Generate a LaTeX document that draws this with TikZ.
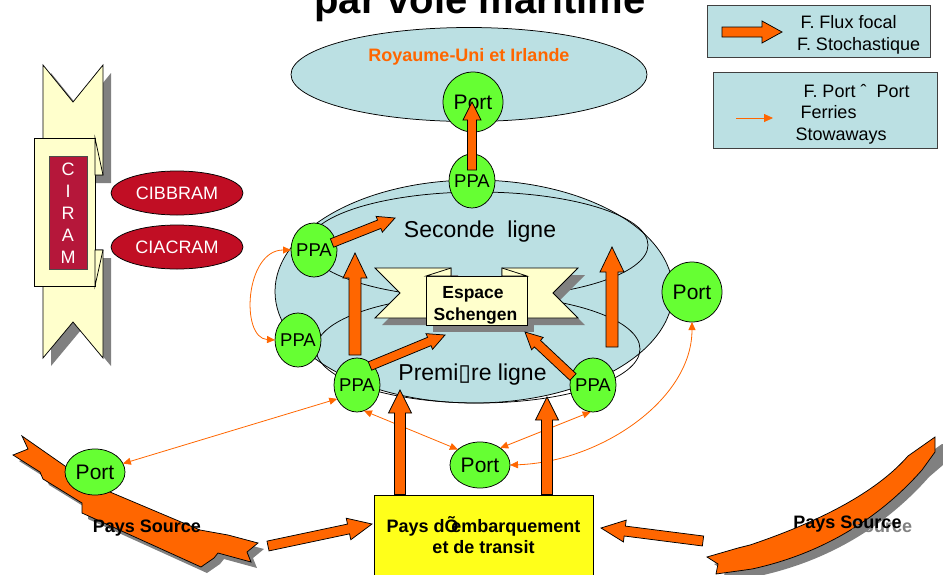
\documentclass[tikz,border=0pt]{standalone}
\usepackage{fontspec}
\setmainfont{Liberation Sans}
\newfontfamily\dvfont{DejaVu Sans}
\usetikzlibrary{shapes.geometric,arrows.meta,calc}
\definecolor{lblue}{HTML}{BBE0E3}
\definecolor{pgreen}{HTML}{66FF33}
\definecolor{porange}{HTML}{FF6600}
\definecolor{pyellow}{HTML}{FFFF1A}
\definecolor{ivory}{HTML}{FFFFCC}
\definecolor{pred}{HTML}{C10E24}
\definecolor{pcrimson}{HTML}{B5173A}
\definecolor{sgray}{HTML}{808080}
\definecolor{lgborder}{HTML}{404040}
\newcommand\fs[1]{\fontsize{#1}{#1}\selectfont}
\newcommand\blockarrow[5]{%
  \coordinate (bah) at ($(#2)!#5!(#1)$);
  \filldraw[blockstyle] ($(#1)!#3!90:(#2)$) -- ($(bah)!#3!90:(#2)$) -- ($(bah)!#4!90:(#2)$) -- (#2) -- ($(bah)!#4!-90:(#2)$) -- ($(bah)!#3!-90:(#2)$) -- ($(#1)!#3!-90:(#2)$) -- cycle;
}
\begin{document}
\begin{tikzpicture}[x=1pt,y=-1pt,
  every node/.style={inner sep=0pt, outer sep=0pt},
  ppa/.style={ellipse, draw=black, line width=.75pt, fill=pgreen, minimum width=46pt, minimum height=54pt, font=\fs{18.5}},
  portc/.style={circle, draw=black, line width=.75pt, fill=pgreen, minimum size=60pt, font=\fs{21}},
  porte/.style={ellipse, draw=black, line width=.75pt, fill=pgreen, minimum width=60pt, minimum height=46pt, font=\fs{21}},
  redell/.style={ellipse, draw=black, line width=.75pt, fill=pred, minimum width=132pt, minimum height=44pt, text=white, font=\fs{18}},
  thinarrow/.style={draw=porange, line width=.8pt, arrows={Triangle[length=8pt,width=7pt]-Triangle[length=8pt,width=7pt]}},
  blockstyle/.style={draw=black, line width=.75pt, fill=porange, line join=miter},
  ribbon/.style={draw=black, line width=.75pt, fill=ivory},
  shadowfill/.style={fill=sgray},
  lbox/.style={draw=lgborder, line width=1pt, fill=lblue},
  lgtext/.style={font=\fs{18}, anchor=base west},
  btext/.style={font=\bfseries\fs{18}, anchor=base},
]
\useasboundingbox (0,0) rectangle (943,574);
\clip (0,0) rectangle (943,574);

% title
\node[font=\bfseries\fs{40}, anchor=base] (title) at (480,13) {par voie maritime};

% UK ellipse
\draw[fill=lblue, line width=.75pt] (469,74.5) ellipse [x radius=178, y radius=47];
\node[font=\bfseries\fs{18}, text=porange, anchor=base] (uk) at (469,61.5) {Royaume-Uni et Irlande};

% main ellipse and lines
\draw[fill=lblue, line width=.75pt] (474,291.5) ellipse [x radius=199, y radius=111.5];
\draw[line width=.75pt] (478,245) ellipse [x radius=170, y radius=53];
\draw[line width=.75pt] (478,349) ellipse [x radius=162, y radius=54];
\node[font=\fs{23}, anchor=base] (seconde) at (480,237) {Seconde\ \ ligne};
\node[font=\fs{23}, anchor=base] (premiere) at (472.5,380) {Premi{\dvfont ▯}re ligne};

% Schengen banner
\fill[shadowfill] (382,275) -- (458,275) -- (458,325) -- (382,325) -- (407,300) -- cycle;
\fill[shadowfill] (585,275) -- (509,275) -- (509,325) -- (585,325) -- (560,300) -- cycle;
\fill[shadowfill] (433,283) rectangle (534,332);
\filldraw[ribbon] (375,268) -- (451,268) -- (451,318) -- (375,318) -- (400,293) -- cycle;
\filldraw[ribbon] (578,268) -- (502,268) -- (502,318) -- (578,318) -- (553,293) -- cycle;
\node[ribbon, minimum width=101pt, minimum height=49pt] (schbox) at (476.5,300.5) {};
\filldraw[ribbon] (426,276) -- (451,268) -- (451,276) -- cycle;
\filldraw[ribbon] (527,276) -- (502,268) -- (502,276) -- cycle;
\node[btext, font=\bfseries\fs{17.5}] (esp1) at (473,298.5) {Espace};
\node[btext, font=\bfseries\fs{17.5}] (esp2) at (475.5,320) {Schengen};

% CIRAM scroll
\fill[shadowfill] (51,73) -- (81,110) -- (111,73) -- (111,183) -- (51,183) -- cycle;
\fill[shadowfill] (51,258) -- (111,258) -- (111,366) -- (81,330) -- (51,366) -- cycle;
\filldraw[ribbon] (43,65) -- (73,102) -- (103,65) -- (103,175) -- (43,175) -- cycle;
\filldraw[ribbon] (43,250) -- (103,250) -- (103,358) -- (73,322) -- (43,358) -- cycle;
\filldraw[ribbon] (34,138) rectangle (95,286);
\filldraw[ribbon] (95,138) -- (103,175) -- (95,175) -- cycle;
\filldraw[ribbon] (95,250) -- (103,250) -- (95,286) -- cycle;
\node[draw=black!70, line width=.75pt, fill=pcrimson, minimum width=38pt, minimum height=113pt] (ciramrect) at (68,212.5) {};
\foreach \l/\yy [count=\i] in {C/175,I/197,R/219,A/241,M/263}
  \node[font=\fs{18}, text=white, anchor=base] (ciram\i) at (68,\yy) {\l};
\node[redell] (cibbram) at (177,193) {CIBBRAM};
\node[redell] (ciacram) at (177,247) {CIACRAM};

% Pays Source left ribbon
\fill[shadowfill, shift={(6,6)}] (22,436) -- (65,466) -- (110,492) -- (200,530) -- (228,535) -- (258,543) -- (247,552) -- (251,562) -- (218,553) -- (214,558) -- (201,567) -- (82,513) -- (82,503) -- (43,479) -- (40,472) -- (13,455) -- (28,449) -- cycle;
\filldraw[fill=porange, draw=black, line width=.75pt] (22,436) -- (65,466) -- (110,492) -- (200,530) -- (228,535) -- (258,543) -- (247,552) -- (251,562) -- (218,553) -- (214,558) -- (201,567) -- (82,513) -- (82,503) -- (43,479) -- (40,472) -- (13,455) -- (28,449) -- cycle;
\node[btext] (srcL) at (147,532) {Pays Source};

% Pays Source right ribbon
\fill[shadowfill, shift={(7,7)}] (707,557) -- (738,548) -- (750,545) .. controls (830,518) and (880,488) .. (908,456) -- (935,437) -- (943,437) -- (943,452) -- (922,470) .. controls (885,512) and (830,552) .. (752,569) -- (745,570) -- (716,574) -- (718,564) -- cycle;
\filldraw[fill=porange, draw=black, line width=.75pt] (707,557) -- (738,548) -- (750,545) .. controls (830,518) and (880,488) .. (908,456) -- (935,437) -- (935,452) -- (922,470) .. controls (885,512) and (830,552) .. (752,569) -- (745,570) -- (716,574) -- (718,564) -- cycle;
\node[btext, text=sgray, anchor=base west] (srcRsh) at (851,532) {Source};
\node[btext] (srcR) at (847.5,528) {Pays Source};

% yellow box
\node[draw=black, line width=.75pt, fill=pyellow, minimum width=219pt, minimum height=90pt] (paysbox) at (483.5,540) {};
\node[btext] (pays1) at (483.5,532) {Pays dÕ\kern-.4em embarquement};
\node[btext] (pays2) at (483.5,553) {et de transit};

% nodes
\node[portc] (portT) at (473,102) {Port};
\node[ppa] (ppaT) at (472,181) {\makebox[0pt]{PPA}};
\node[ppa] (ppaUL) at (314,250) {\makebox[0pt]{PPA}};
\node[ppa] (ppaML) at (298,340) {\makebox[0pt]{PPA}};
\node[ppa] (ppaBL) at (357,385) {\makebox[0pt]{PPA}};
\node[ppa] (ppaBR) at (593,385) {\makebox[0pt]{PPA}};
\node[portc] (portR) at (692,292) {Port};
\node[porte] (portB) at (480,465) {Port};
\node[porte] (portL) at (95,472) {Port};

% thin arrows
\draw[thinarrow] (portL) -- (ppaBL.-145);
\draw[thinarrow] (ppaBL.-75) -- (portB.145);
\draw[thinarrow] (ppaBR.-95) -- (portB.40);
\draw[thinarrow] (portR.south) .. controls (692,400) and (600,462) .. (portB.east);
\draw[thinarrow] (ppaUL.west) .. controls (245,250) and (240,338) .. (ppaML.west);

% block arrows
\coordinate (aTt) at (472,170); \coordinate (aTh) at (472,102);
\blockarrow{aTt}{aTh}{4.5pt}{9pt}{18pt}
\coordinate (aULt) at (332,243); \coordinate (aULh) at (395,218);
\blockarrow{aULt}{aULh}{4.5pt}{8.5pt}{17pt}
\coordinate (aLt) at (355,355); \coordinate (aLh) at (355,253);
\blockarrow{aLt}{aLh}{6pt}{12pt}{25pt}
\coordinate (aRt) at (612,347); \coordinate (aRh) at (612,247);
\blockarrow{aRt}{aRh}{6pt}{12pt}{25pt}
\coordinate (aBLt) at (370,366); \coordinate (aBLh) at (445,335);
\blockarrow{aBLt}{aBLh}{4.5pt}{8.5pt}{17pt}
\coordinate (aBRt) at (573,377); \coordinate (aBRh) at (525,332);
\blockarrow{aBRt}{aBRh}{4.5pt}{8.5pt}{17pt}
\coordinate (aB1t) at (400,494.5); \coordinate (aB1h) at (400,390);
\blockarrow{aB1t}{aB1h}{5.5pt}{11.5pt}{23pt}
\coordinate (aB2t) at (547,494.5); \coordinate (aB2h) at (547,397);
\blockarrow{aB2t}{aB2h}{5.5pt}{11.5pt}{23pt}
\coordinate (aLLt) at (268,546); \coordinate (aLLh) at (372,524);
\blockarrow{aLLt}{aLLh}{5pt}{11pt}{24pt}
\coordinate (aRRt) at (703,541); \coordinate (aRRh) at (601,528);
\blockarrow{aRRt}{aRRh}{5pt}{11pt}{24pt}

% legends
\node[lbox, minimum width=223pt, minimum height=52pt] (lg1) at (818.5,31) {};
\coordinate (lgat) at (722,32); \coordinate (lgah) at (782,32);
\blockarrow{lgat}{lgah}{5pt}{11pt}{20pt}
\node[lgtext] (lg1a) at (800.5,28) {F. Flux focal};
\node[lgtext] (lg1b) at (797,50) {F. Stochastique};
\node[lbox, minimum width=224pt, minimum height=76pt] (lg2) at (825,110) {};
\coordinate (lgbt) at (736,118); \coordinate (lgbh) at (773,118);
\draw[draw=porange, line width=.8pt, -{Triangle[length=9pt,width=8pt]}] (lgbt) -- (lgbh);
\node[lgtext] (lg2a) at (803.5,97) {F. Port ˆ\ \ Port};
\node[lgtext] (lg2b) at (800.5,118) {Ferries};
\node[lgtext] (lg2c) at (795.5,140) {Stowaways};
\end{tikzpicture}
\end{document}
